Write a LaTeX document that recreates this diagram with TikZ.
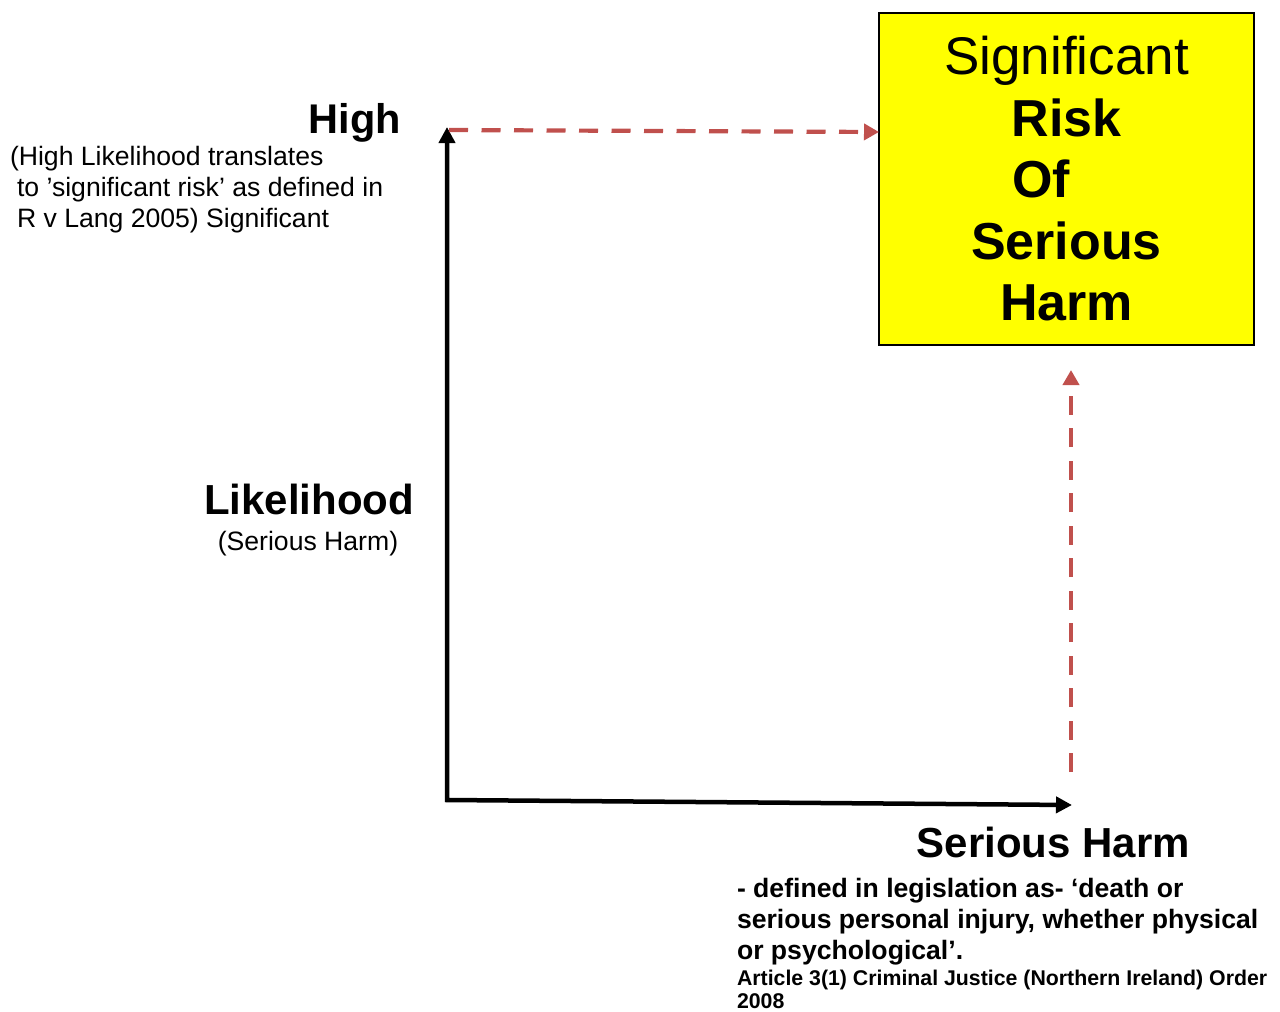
\documentclass[tikz,border=0pt]{standalone}
\usepackage{fontspec}
\setmainfont{Liberation Sans}
\usetikzlibrary{calc}
\usetikzlibrary{arrows.meta}

\definecolor{riskred}{RGB}{192,80,77}
\definecolor{boxyellow}{RGB}{255,255,0}

\begin{document}
\begin{tikzpicture}[x=1pt,y=-1pt,
	axisline/.style={line width=4.5pt,{Triangle[length=16pt,width=16pt]}-{Triangle[length=16pt,width=16pt]}},
	riskline/.style={riskred,line width=4.2pt,dash pattern=on 19pt off 13.5pt,-{Triangle[length=15pt,width=16pt]}},
	txt/.style={inner sep=0pt,outer sep=0pt},
	bigtxt/.style={font=\fontsize{42}{50}\selectfont\bfseries},
	smalltxt/.style={font=\fontsize{26.6}{31}\selectfont}]

	\useasboundingbox (0,0) rectangle (1280,1012);

	% box in the corner
	\node[draw,line width=1.5pt,fill=boxyellow,minimum width=375pt,minimum height=332pt,
		align=center,txt,font=\fontsize{52}{61.5}\selectfont\bfseries] (riskbox) at (1066.5,179)
		{{\fontsize{53}{61.5}\selectfont\mdseries Significant}\\
		 Risk\\
		 \makebox[108pt][l]{Of}\\
		 Serious\\
		 Harm};

	% axes
	\coordinate (O) at (447,800);
	\coordinate (ytop) at (447,127);
	\coordinate (xend) at (1072,805);
	\draw[axisline,line join=miter] (ytop) -- (O) -- (xend);

	% y labels
	\node[txt,anchor=base east,font=\fontsize{41.5}{49}\selectfont\bfseries] (high) at (401,133) {High};
	\node[txt,smalltxt,anchor=north west,align=left] (highnote) at (10,146)
		{(High Likelihood translates\\
		 \hspace*{7pt}to ’significant risk’ as defined in\\
		 \hspace*{7pt}R v Lang 2005) Significant};
	\node[txt,bigtxt,anchor=base] (likely) at (309,514) {Likelihood};
	\node[txt,smalltxt,anchor=base] (likelynote) at (308,550) {(Serious Harm)};

	% x labels
	\node[txt,bigtxt,anchor=base east] (harm) at (1190,857) {Serious Harm};
	\node[txt,smalltxt,anchor=north west,align=left] (harmdef) at (737,878)
		{\bfseries - defined in legislation as- ‘death or\\
		 \bfseries serious personal injury, whether physical\\
		 \bfseries or psychological’.};
	\node[txt,anchor=north west,align=left,font=\fontsize{21.3}{23.5}\selectfont\bfseries] (article) at (737,970)
		{Article 3(1) Criminal Justice (Northern Ireland) Order\\
		 2008};

	% dashed arrows to the box
	\coordinate (hstart) at (449,130);
	\coordinate (hlevel) at (0,132);
	\draw[riskline] (hstart) -- (riskbox.west |- hlevel);

	\coordinate (vstart) at (1071,772);
	\coordinate (vend) at (1071,370);
	\draw[riskline] (vstart) -- (vend);

\end{tikzpicture}
\end{document}
